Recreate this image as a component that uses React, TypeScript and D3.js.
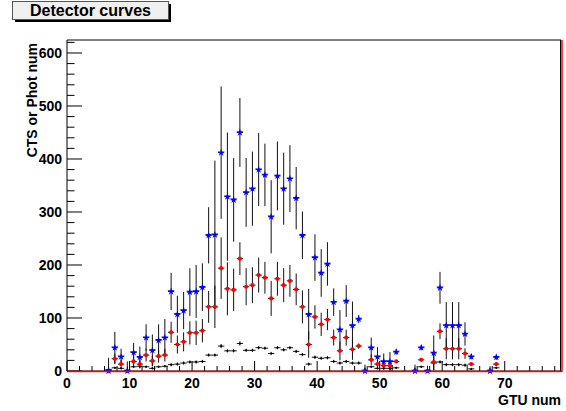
import React from "react";
import * as d3 from "d3";

const gtu = [6,7,8,9,10,11,12,13,14,15,16,17,18,19,20,21,22,23,24,25,26,27,28,29,30,31,32,33,34,35,36,37,38,39,40,41,42,43,44,45,46,47,48,49,50,51,52,55,56,57,58,59,60,61,62,63,64,67,68];
const blueVals = [0,44,27,0,35,26,63,39,58,63,150,107,114,149,150,158,256,257,412,329,323,450,337,344,380,370,291,368,344,363,326,256,107,214,185,202,130,78,132,86,98,0,44,27,18,18,36,0,44,0,34,157,86,86,86,70,27,0,26];
const blueErr = [25,30,15,18,18,20,25,30,30,35,35,35,35,45,50,45,53,140,125,121,79,65,65,70,69,59,69,65,68,63,59,45,48,44,45,41,26,37,30,45,8,12,19,18,15,18,5,12,5,10,33,30,44,44,44,22,5,9,5];
const redVals = [0,23,13,0,18,13,30,19,28,30,73,50,55,72,72,76,121,121,194,155,153,212,159,162,181,176,137,174,162,170,154,121,50,102,88,97,63,38,63,41,47,0,21,13,10,10,18,0,21,0,17,75,42,42,42,33,13,0,13];
const redErr = [8,10,8,8,10,8,12,10,12,12,20,17,18,22,23,22,30,40,58,50,40,31,35,34,33,30,33,32,32,30,30,31,25,22,22,20,15,18,15,20,5,6,10,8,7,8,3,6,3,6,15,15,20,20,20,10,3,5,3];
const blackVals = [3,6,5,0,8,9,8,5,8,9,12,13,15,17,17,18,30,30,47,38,38,52,39,39,44,43,33,44,40,44,37,31,13,26,24,25,18,15,18,15,15,0,8,5,5,5,6,0,8,0,15,17,12,12,12,11,4,0,6];
const blackErr = [2,2,2,2,2,2,2,2,2,2,3,3,3,3,3,3,3,3,4,3,3,4,3,3,3,3,3,3,3,3,3,3,3,3,3,3,3,3,3,3,3,2,2,2,2,2,2,2,2,2,3,3,3,3,3,3,2,2,2];

const xTicks = [0,10,20,30,40,50,60,70];
const yTicks = [0,100,200,300,400,500,600];

const W = 566, H = 411;
const L = 67, R = 561, T = 40, B = 371;
const FONT = "'Liberation Sans', Arial, Helvetica, sans-serif";

export default function App() {
  const x = d3.scaleLinear().domain([0, 79]).range([L, R]);
  const y = d3.scaleLinear().domain([0, 624.5]).range([B, T]);
  const cx = (g: number) => x(g + 0.65);
  const star = d3.symbol().type(d3.symbolStar).size(17)();
  const xMinor = d3.range(0, 79.01, 2);
  const yMinor = d3.range(0, 624, 20);

  const series = [
    { vals: blackVals, errs: blackErr },
    { vals: redVals, errs: redErr },
    { vals: blueVals, errs: blueErr },
  ];

  return (
    <svg width={W} height={H} style={{ position: "absolute", left: 0, top: 0, background: "#fff" }}>
      <rect x={0} y={0} width={W} height={H} fill="#fff" />
      {/* title box */}
      <rect x={15} y={4} width={156} height={18} fill="#000" />
      <rect x={12.5} y={1.5} width={156} height={18} fill="#f0f0f0" stroke="#555" strokeWidth={1} />
      <text x={90.5} y={16} textAnchor="middle" fontFamily={FONT} fontWeight="bold" fontSize={16}>Detector curves</text>

      {/* frame */}
      <line x1={L} x2={R} y1={T} y2={T} stroke="#000" strokeWidth={1} />
      <line x1={L} x2={L} y1={T} y2={B} stroke="#000" strokeWidth={1} />
      <line x1={L} x2={R} y1={B} y2={B} stroke="#000" strokeWidth={1} />

      {/* y ticks */}
      {yMinor.map((v) => (
        <line key={"ym" + v} x1={L} x2={L + (v % 100 === 0 ? 15 : 7.5)} y1={y(v)} y2={y(v)} stroke="#000" strokeWidth={1} />
      ))}
      {yTicks.map((v) => (
        <text key={"yl" + v} x={62} y={y(v) + 5} textAnchor="end" fontFamily={FONT} fontWeight="bold" fontSize={14}>{v}</text>
      ))}
      {/* x ticks */}
      {xMinor.map((v) => (
        <line key={"xm" + v} x1={x(v)} x2={x(v)} y1={B} y2={B - (v % 10 === 0 ? 10 : 5)} stroke="#000" strokeWidth={1} />
      ))}
      {xTicks.map((v) => (
        <text key={"xl" + v} x={x(v)} y={388} textAnchor="middle" fontFamily={FONT} fontWeight="bold" fontSize={14}>{v}</text>
      ))}

      {/* axis titles */}
      <text x={561} y={405} textAnchor="end" fontFamily={FONT} fontWeight="bold" fontSize={14}>GTU num</text>
      <text transform={`translate(37,43) rotate(-90)`} textAnchor="end" fontFamily={FONT} fontWeight="bold" fontSize={14}>CTS or Phot num</text>

      {/* error bars */}
      {series.map((s, si) =>
        gtu.map((g, i) => {
          const v = s.vals[i], e = s.errs[i];
          const top = y(Math.min(624.5, v + e));
          const bot = y(Math.max(0, v - e));
          return (
            <g key={`e${si}-${i}`}>
              <line x1={cx(g)} x2={cx(g)} y1={top} y2={bot} stroke="#111" strokeWidth={1} />
              <line x1={x(g + 0.15)} x2={x(g + 1.15)} y1={y(v)} y2={y(v)} stroke="#111" strokeWidth={1} />
            </g>
          );
        })
      )}

      {/* markers */}
      {gtu.map((g, i) => (
        <circle key={"bk" + i} cx={cx(g)} cy={y(blackVals[i])} r={1} fill="#000" />
      ))}
      {gtu.map((g, i) => (
        <circle key={"rd" + i} cx={cx(g)} cy={y(redVals[i])} r={2.1} fill="#ff0000" />
      ))}
      {gtu.map((g, i) => (
        <path key={"bl" + i} d={star} transform={`translate(${cx(g)},${y(blueVals[i])})`} fill="#0000ff" />
      ))}

      {/* red baseline / right edge */}
      <line x1={L} x2={R + 1} y1={B + 0.5} y2={B + 0.5} stroke="#ff0000" strokeWidth={1.5} />
      <line x1={R - 0.5} x2={R - 0.5} y1={T} y2={B} stroke="#000" strokeWidth={1} />
      <line x1={R + 1} x2={R + 1} y1={T} y2={B + 1} stroke="#ff0000" strokeWidth={1.5} />
    </svg>
  );
}
